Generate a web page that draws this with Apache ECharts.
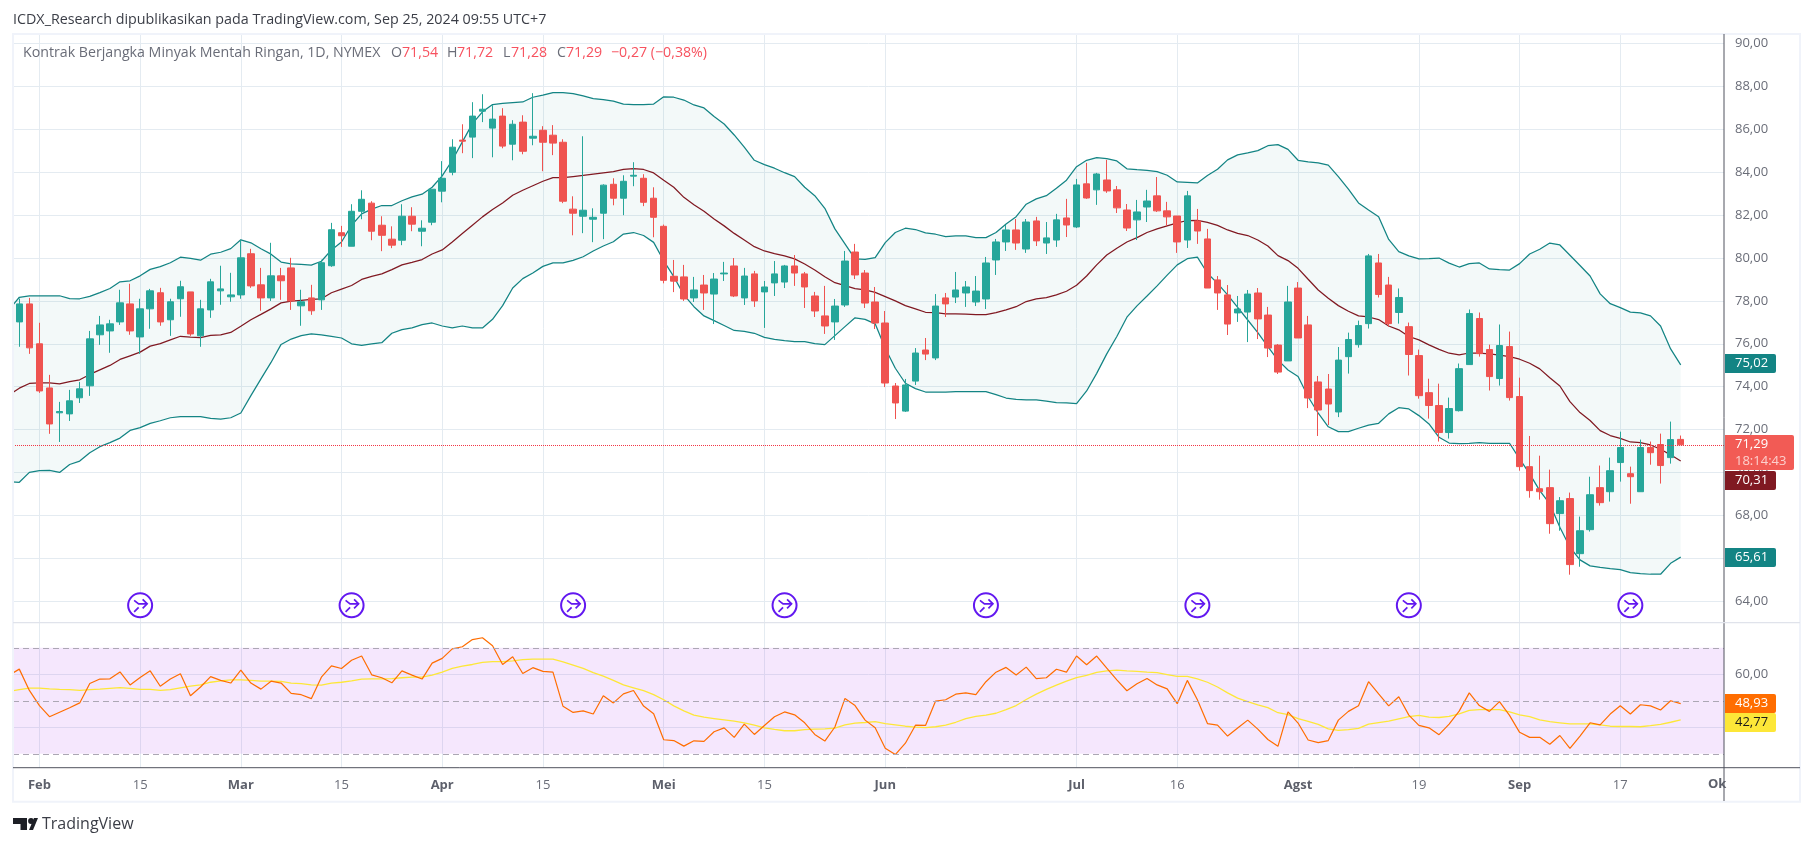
<!DOCTYPE html>
<html><head><meta charset="utf-8">
<style>html,body{margin:0;padding:0;background:#fff}#c{width:1814px;height:846px}</style>
<script src="https://cdn.jsdelivr.net/npm/echarts@6/dist/echarts.min.js"></script>
</head><body><div id="c"></div>
<script>
const open=[77.02,77.86,76.00,73.94,72.78,72.73,73.48,74.04,76.42,76.60,77.02,77.86,76.32,77.63,78.38,77.12,78.10,78.42,76.37,77.58,78.47,78.19,78.28,80.20,78.75,78.14,79.17,79.54,77.77,78.14,78.05,79.64,81.18,80.55,82.18,82.56,81.53,80.88,80.83,81.95,81.25,81.67,83.12,84.00,85.50,85.64,86.85,86.06,86.62,85.31,86.34,85.59,85.96,85.73,85.40,82.28,81.95,81.81,82.09,83.44,82.79,83.82,83.72,82.79,81.48,79.15,79.12,78.14,78.74,78.32,79.26,79.63,78.14,79.26,78.42,78.84,78.88,79.63,79.26,78.23,77.30,77.02,77.81,80.28,79.30,77.95,76.97,74.03,72.86,74.26,75.71,75.34,78.14,78.18,78.37,77.95,78.09,79.91,80.75,81.31,80.42,81.73,80.70,80.84,81.87,81.45,83.46,83.18,83.64,83.18,82.24,81.78,82.38,82.90,82.20,81.96,80.84,81.73,80.89,78.98,78.28,77.44,77.48,78.37,77.34,75.94,75.20,78.60,76.88,74.22,73.89,72.82,75.40,75.96,76.94,79.77,78.74,77.46,76.80,75.45,73.72,73.12,71.86,72.88,75.03,77.18,75.73,74.38,75.87,73.54,70.27,69.24,69.29,68.08,68.78,66.21,67.33,69.29,69.10,70.46,69.94,69.10,71.16,71.30,70.69,71.54];
const close=[77.86,75.81,73.80,72.26,72.84,73.34,73.90,76.23,76.88,76.93,77.91,76.60,77.63,78.47,77.02,77.96,78.66,76.46,77.63,78.89,78.56,78.28,80.01,78.70,78.14,79.17,78.94,78.00,77.96,77.54,79.78,81.32,81.04,82.18,82.74,81.25,81.06,80.60,81.95,81.58,81.39,83.21,83.72,85.17,85.45,86.62,86.94,86.48,85.22,86.24,84.98,85.68,85.40,85.36,82.65,82.09,82.23,81.90,83.40,82.79,83.58,83.86,82.60,81.90,78.96,78.92,78.09,78.51,78.37,79.02,79.30,78.23,79.16,78.00,78.65,79.26,79.63,79.30,78.65,77.53,76.83,77.76,79.86,79.21,77.90,76.97,74.17,73.24,74.08,75.57,75.52,77.76,77.86,78.51,78.65,78.46,79.77,80.75,81.31,80.70,81.68,80.80,80.94,81.78,81.54,83.41,82.80,83.92,83.13,82.34,81.40,82.15,82.66,82.20,81.92,80.75,82.90,81.26,78.60,78.37,76.92,77.62,78.32,77.16,75.80,74.68,77.95,76.27,73.47,72.91,73.19,75.24,76.20,76.85,80.10,78.30,76.94,78.16,75.50,73.58,73.12,71.86,72.98,74.84,77.41,75.54,74.47,75.92,73.49,70.27,69.15,69.10,67.61,68.68,65.70,67.28,68.96,68.59,70.08,71.16,69.80,71.16,70.92,70.32,71.53,71.29];
const high=[78.11,78.14,76.98,74.55,73.29,73.85,74.22,76.60,77.30,77.12,78.52,78.80,78.10,78.56,78.61,78.10,78.94,78.42,78.05,79.03,79.64,79.31,80.85,80.43,79.54,80.71,79.54,80.01,78.52,78.75,79.92,81.64,81.50,82.51,83.16,82.65,81.95,81.48,82.51,82.37,81.76,83.21,84.52,85.54,86.24,87.27,87.64,87.13,86.99,86.43,86.66,87.69,86.15,86.20,85.54,82.88,85.68,82.32,83.44,83.72,83.86,84.47,83.91,83.30,81.56,79.91,79.68,79.12,79.21,79.30,79.82,80.00,79.54,79.40,78.93,79.86,79.68,80.14,79.35,78.42,78.70,78.09,80.33,80.66,79.44,78.65,77.53,74.17,74.36,75.80,76.27,78.32,78.37,79.35,78.93,79.16,80.05,80.89,81.54,81.82,81.82,81.92,81.68,82.06,82.76,83.69,84.44,83.97,84.58,83.36,82.52,82.71,83.18,83.78,82.62,81.96,83.13,82.29,81.36,79.16,78.74,78.23,78.51,78.60,77.72,75.99,78.70,78.88,77.30,74.50,74.59,75.85,76.52,77.08,80.19,80.19,79.12,78.58,76.99,75.73,74.37,74.14,73.49,75.08,77.60,77.46,75.96,76.90,76.57,74.42,71.70,70.78,70.13,68.85,69.06,67.94,69.80,70.32,70.69,71.90,70.27,71.53,71.44,71.81,72.37,71.72];
const low=[75.86,75.53,73.71,71.80,71.42,72.40,73.24,73.57,75.95,75.58,76.88,76.42,75.53,76.70,76.84,76.37,77.26,76.37,75.86,77.21,77.82,77.96,78.10,78.61,77.54,78.00,78.05,77.58,76.84,77.35,77.58,79.59,80.52,80.55,81.81,80.83,80.32,80.46,80.60,81.25,80.55,81.53,82.60,83.86,84.89,84.66,86.34,84.70,85.12,84.56,84.84,85.26,84.05,84.80,82.56,81.06,81.16,80.74,80.88,82.46,82.00,83.35,82.42,80.97,78.82,78.41,78.00,77.95,77.58,76.92,78.93,78.18,77.81,77.72,76.74,78.23,78.60,78.70,77.67,77.25,76.46,76.18,77.72,79.02,77.67,76.69,73.98,72.49,72.82,74.08,75.24,75.24,77.25,77.90,77.72,77.76,77.62,79.21,80.33,80.38,80.24,80.56,80.19,80.52,80.98,81.40,82.76,82.48,83.04,82.10,81.26,80.84,81.68,82.15,81.50,80.24,80.47,80.66,78.60,77.58,76.41,77.02,76.08,76.22,75.38,74.59,75.20,76.27,73.00,71.70,72.21,72.58,74.61,75.82,76.71,78.16,76.80,76.94,74.52,73.44,72.51,71.44,71.58,72.84,75.03,75.40,73.82,74.05,73.35,70.08,68.82,68.73,67.14,67.28,65.23,65.60,67.24,68.45,68.64,69.57,68.54,69.10,70.36,69.48,70.41,71.28];
// indicator lists start one session before the first visible candle
const bbUpper=[77.60,78.17,78.24,78.24,78.24,78.24,78.11,78.10,78.21,78.39,78.58,78.89,78.94,79.17,79.47,79.60,79.78,80.04,79.98,79.90,80.18,80.27,80.44,80.85,80.71,80.43,80.18,79.81,79.73,79.70,79.67,79.85,80.38,80.75,81.53,82.06,82.28,82.45,82.45,82.67,82.85,82.98,83.30,83.83,84.56,85.42,86.27,86.82,87.16,87.21,87.25,87.28,87.50,87.60,87.72,87.72,87.67,87.56,87.44,87.39,87.32,87.18,87.16,87.16,87.18,87.52,87.50,87.37,87.14,87.00,86.60,86.25,85.74,85.17,84.56,84.36,84.19,83.98,83.80,83.30,82.91,82.32,81.36,80.66,79.96,79.94,80.02,80.72,81.19,81.39,81.33,81.17,81.11,81.00,81.03,81.03,80.95,80.95,81.19,81.59,81.93,82.51,82.76,82.91,83.25,83.63,84.26,84.56,84.68,84.64,84.53,84.16,84.12,84.09,84.03,83.86,83.55,83.53,83.50,83.85,84.14,84.58,84.81,84.90,85.01,85.24,85.29,85.07,84.56,84.48,84.44,84.33,83.80,83.21,82.57,82.24,81.93,80.87,80.30,80.10,79.96,79.97,80.00,79.76,79.58,79.74,79.77,79.49,79.46,79.44,79.74,80.19,80.41,80.70,80.61,80.13,79.65,79.16,78.33,77.87,77.69,77.48,77.44,77.30,76.83,75.76,75.02];
const bbBasis=[73.62,73.93,74.15,74.18,74.18,74.13,74.24,74.32,74.57,74.78,74.99,75.27,75.44,75.61,75.89,76.01,76.18,76.35,76.31,76.29,76.39,76.42,76.53,76.82,77.12,77.37,77.63,77.91,77.99,78.03,78.07,78.10,78.38,78.55,78.72,79.00,79.14,79.26,79.46,79.68,79.80,79.93,80.19,80.38,80.75,81.14,81.53,81.92,82.26,82.57,82.93,83.16,83.37,83.58,83.75,83.75,83.80,83.85,83.91,83.97,84.03,84.14,84.17,84.13,83.97,83.63,83.30,82.83,82.49,82.18,81.82,81.50,81.15,80.84,80.53,80.33,80.21,80.10,79.96,79.72,79.44,79.13,78.85,78.71,78.57,78.51,78.40,78.20,78.00,77.78,77.63,77.47,77.45,77.39,77.39,77.38,77.36,77.36,77.45,77.58,77.73,77.97,78.09,78.15,78.28,78.45,78.73,79.16,79.68,80.14,80.46,80.75,80.95,81.19,81.36,81.50,81.64,81.75,81.76,81.66,81.52,81.31,81.15,81.05,80.84,80.56,80.11,79.88,79.52,79.01,78.51,78.12,77.78,77.52,77.30,77.25,77.13,76.83,76.65,76.34,76.18,75.95,75.74,75.56,75.48,75.57,75.56,75.53,75.47,75.40,75.28,75.09,74.83,74.42,74.03,73.30,72.79,72.42,71.95,71.72,71.59,71.42,71.39,71.28,71.08,70.82,70.53];
const bbLower=[69.57,69.54,70.00,70.08,70.10,70.00,70.37,70.53,70.92,71.20,71.39,71.60,71.96,72.09,72.29,72.41,72.55,72.60,72.60,72.60,72.52,72.49,72.55,72.77,73.58,74.36,75.13,75.97,76.22,76.38,76.46,76.42,76.35,76.27,76.00,75.93,76.00,76.05,76.49,76.66,76.74,76.89,76.97,76.83,76.74,76.83,76.74,76.74,77.14,77.78,78.60,79.04,79.30,79.61,79.77,79.77,79.89,80.06,80.33,80.56,80.76,81.12,81.19,81.05,80.73,79.87,79.13,78.28,77.73,77.30,77.08,76.85,76.62,76.58,76.49,76.30,76.21,76.15,76.10,76.10,76.01,75.96,76.38,76.80,77.21,77.14,76.93,75.79,74.86,74.16,73.91,73.75,73.75,73.75,73.77,73.77,73.77,73.77,73.63,73.47,73.41,73.38,73.38,73.33,73.26,73.24,73.21,73.80,74.62,75.53,76.34,77.24,77.77,78.23,78.70,79.20,79.68,79.97,80.04,79.29,78.82,78.28,77.70,77.11,76.52,75.87,75.24,74.78,74.47,73.53,72.76,72.13,71.90,71.90,72.06,72.21,72.29,72.73,73.02,72.96,72.65,72.26,71.64,71.37,71.34,71.36,71.39,71.36,71.36,71.36,70.63,69.93,69.15,68.53,67.44,66.51,65.92,65.64,65.57,65.51,65.47,65.33,65.28,65.25,65.25,65.76,66.05];
const rsi=[59.7,61.95,53.9,48.2,44.0,45.7,47.4,49.2,56.5,58.2,58.3,60.9,56.0,58.8,61.3,55.5,58.2,60.2,51.9,55.2,59.1,57.7,56.7,61.6,56.7,54.4,57.4,56.7,52.8,52.3,50.8,58.9,63.2,62.2,65.3,66.9,59.8,58.7,56.8,61.3,59.7,58.2,64.2,66.0,69.6,70.4,73.1,73.8,70.8,63.7,66.6,60.3,62.5,61.1,60.8,47.9,45.6,46.2,45.0,51.9,49.2,52.6,53.9,48.0,45.1,35.3,35.0,32.9,34.9,34.7,38.3,39.8,36.2,41.2,37.3,40.7,44.0,45.8,44.7,41.7,37.3,34.8,40.1,50.9,48.2,42.7,39.8,32.1,29.7,34.0,40.8,40.7,49.9,50.4,52.5,53.0,52.3,57.2,60.8,62.6,59.7,62.7,58.4,58.7,61.9,60.8,66.9,63.6,66.9,62.3,57.9,53.8,56.4,58.4,56.0,54.5,48.9,57.7,50.4,41.4,40.8,36.7,39.7,42.7,39.3,35.4,32.8,45.8,41.6,35.2,34.2,35.0,42.7,46.0,48.1,57.2,52.6,48.1,51.5,44.6,40.7,39.8,37.2,41.2,46.1,53.0,48.2,46.0,49.7,44.5,38.1,36.2,36.2,33.6,36.9,32.0,36.7,41.7,40.9,45.0,48.1,45.0,48.5,48.1,46.5,50.0,48.93];
const rsiMa=[53.6,54.2,54.8,54.8,54.5,54.3,54.2,53.9,54.2,54.4,54.7,55.0,54.7,54.3,54.3,53.9,54.2,54.9,55.5,56.0,57.0,57.5,57.9,57.9,57.7,57.4,57.4,57.3,56.7,56.5,56.0,55.9,56.7,57.0,57.5,58.2,58.3,58.3,58.4,58.7,58.9,58.9,59.7,60.8,62.2,63.1,63.7,64.5,64.8,64.8,65.1,65.5,65.7,65.7,65.7,64.7,63.5,62.2,60.6,59.3,57.7,56.0,54.9,53.8,52.3,50.4,48.1,46.2,44.6,43.8,43.3,42.8,42.3,41.7,40.8,39.8,39.2,38.7,38.7,39.1,39.3,39.4,39.7,40.9,41.6,41.8,42.1,41.4,40.9,40.4,40.1,39.9,40.2,40.8,41.9,43.3,44.1,44.6,45.3,46.7,48.2,50.5,52.5,54.3,55.9,57.4,58.7,59.6,60.7,61.3,61.6,61.3,61.1,60.8,60.6,59.9,59.2,59.2,58.3,57.0,55.2,53.0,51.0,49.7,48.5,47.4,45.5,44.8,43.3,42.2,41.1,39.4,38.8,39.1,39.6,41.2,41.8,42.3,43.2,44.0,44.5,43.8,43.7,44.1,45.1,46.4,46.7,46.7,46.7,45.8,44.7,44.0,42.8,42.1,41.7,41.3,41.3,41.3,40.9,40.4,40.3,40.3,40.2,40.6,41.1,41.9,42.77];
const tickIdx=[2,12,22,32,42,52,64,74,86,105,115,127,139,149,159];
const tickLabels=['Feb','15','Mar','15','Apr','15','Mei','15','Jun','Jul','16','Agst','19','Sep','17'];
const priceTicks=[64,66,68,70,72,74,76,78,80,82,84,86,88,90];
const eventIdx=[12,33,55,76,96,117,138,160];
const lastClose=71.29;

const FONT='"Open Sans",sans-serif';
const TXT='#6a6d78';
const GRID='#e4ebf1';
const cd=open.map((o,i)=>[i,o,close[i],low[i],high[i]]);
const line=a=>a.map((v,i)=>[i-1,v]);
const labelMap={};tickIdx.forEach((t,i)=>labelMap[t]=tickLabels[i]);
const isMonth=s=>!/^\d/.test(s);
const xMin=-0.626,xMax=169.3;

function bandFill(p,api){
  const pts=[];
  for(let i=0;i<bbUpper.length;i++)pts.push(api.coord([i-1,bbUpper[i]]));
  for(let i=bbLower.length-1;i>=0;i--)pts.push(api.coord([i-1,bbLower[i]]));
  return {type:'polygon',shape:{points:pts},style:{fill:'rgba(34,150,140,0.055)'}};
}
function eventIcon(p,api){
  const c=api.coord([api.value(0),63.8]);const x=c[0],y=c[1];const col='#6218f0';
  const s={stroke:col,lineWidth:1.7,fill:null};
  return {type:'group',children:[
    {type:'circle',shape:{cx:x,cy:y,r:12},style:{stroke:col,lineWidth:2,fill:'#fff'}},
    {type:'polyline',shape:{points:[[x-6,y-5],[x-1.5,y-1.5],[x+7,y-1.5]]},style:s},
    {type:'polyline',shape:{points:[[x+2.5,y-6],[x+7,y-1.5],[x+2.5,y+3]]},style:s},
    {type:'line',shape:{x1:x-1.5,y1:y+2,x2:x-6,y2:y+6.5},style:s}
  ]};
}
function tag(y,h,w,bg,lines){
  const out=[{type:'rect',z:50,shape:{x:1725,y:y,width:w,height:h,r:[0,2,2,0]},style:{fill:bg}}];
  lines.forEach(l=>out.push({type:'text',z:51,style:{x:1735,y:l.y,text:l.t,fill:l.c,font:'13px '+FONT,textVerticalAlign:'middle'}}));
  return out;
}
const gLine=(x1,y1,x2,y2,c,w)=>({type:'line',z:40,shape:{x1,y1,x2,y2},style:{stroke:c,lineWidth:w||1}});

const chart=echarts.init(document.getElementById('c'),null,{renderer:'canvas'});
chart.setOption({
  animation:false,backgroundColor:'#fff',
  grid:[{left:13,top:34,width:1711,height:588.7},{left:13,top:622.7,width:1711,height:145}],
  xAxis:[
   {type:'value',gridIndex:0,min:xMin,max:xMax,axisLine:{show:false},axisLabel:{show:false},
    axisTick:{show:false,customValues:tickIdx},splitLine:{show:true,lineStyle:{color:GRID}}},
   {type:'value',gridIndex:1,min:xMin,max:xMax,axisLine:{show:false},
    axisTick:{show:false,customValues:tickIdx},splitLine:{show:true,lineStyle:{color:GRID}},
    axisLabel:{show:true,customValues:tickIdx,margin:11,hideOverlap:false,
      formatter:v=>{const s=labelMap[v]||'';return isMonth(s)?'{b|'+s+'}':'{r|'+s+'}';},
      rich:{b:{fontFamily:FONT,fontSize:13,fontWeight:'bold',color:'#5d606b'},r:{fontFamily:FONT,fontSize:13,color:TXT}}}}
  ],
  yAxis:[
   {type:'value',gridIndex:0,position:'right',min:62.99,max:90.45,axisLine:{show:false},
    axisTick:{show:false,customValues:priceTicks},splitLine:{show:true,lineStyle:{color:GRID}},
    axisLabel:{show:true,customValues:priceTicks,margin:11,color:TXT,fontFamily:FONT,fontSize:13,
      padding:[0,0,4,0],formatter:v=>v.toFixed(2).replace('.',',')}},
   {type:'value',gridIndex:1,position:'right',min:24.75,max:79.47,axisLine:{show:false},
    axisTick:{show:false,customValues:[40,60]},splitLine:{show:true,lineStyle:{color:GRID}},
    axisLabel:{show:true,customValues:[60],margin:11,color:TXT,fontFamily:FONT,fontSize:13,
      padding:[0,0,4,0],formatter:v=>v.toFixed(2).replace('.',',')}}
  ],
  series:[
   {name:'bbFill',type:'custom',data:[[0,70]],encode:{x:0,y:1},renderItem:bandFill,clip:true,z:1,silent:true},
   {name:'Upper',type:'line',data:line(bbUpper),symbol:'none',lineStyle:{color:'#138484',width:1.25},z:2},
   {name:'Lower',type:'line',data:line(bbLower),symbol:'none',lineStyle:{color:'#138484',width:1.25},z:2},
   {name:'Basis',type:'line',data:line(bbBasis),symbol:'none',lineStyle:{color:'#801922',width:1.25},z:2},
   {name:'Price',type:'candlestick',data:cd,encode:{x:0,y:[1,2,3,4]},barWidth:7,z:3,
    itemStyle:{color:'#26a69a',color0:'#ef5350',borderColor:'#26a69a',borderColor0:'#ef5350',borderWidth:1},
    markLine:{silent:true,symbol:'none',label:{show:false},lineStyle:{color:'#f23645',type:'dotted',width:1},data:[{yAxis:lastClose}]}},
   {name:'Events',type:'custom',data:eventIdx.map(i=>[i]),encode:{x:0},renderItem:eventIcon,z:4,clip:false},
   {name:'RSIband',type:'line',xAxisIndex:1,yAxisIndex:1,data:[],symbol:'none',z:1,
    markArea:{silent:true,itemStyle:{color:'rgba(170,60,240,0.12)'},data:[[{yAxis:70},{yAxis:30}]]},
    markLine:{silent:true,symbol:'none',label:{show:false},lineStyle:{color:'#aca7b4',type:[6,4],width:1},
      data:[{yAxis:70},{yAxis:50},{yAxis:30}]}},
   {name:'RSI MA',type:'line',xAxisIndex:1,yAxisIndex:1,data:line(rsiMa),symbol:'none',lineStyle:{color:'#fde738',width:1.3},z:3},
   {name:'RSI',type:'line',xAxisIndex:1,yAxisIndex:1,data:line(rsi),symbol:'none',lineStyle:{color:'#ff6d00',width:1.2},z:4}
  ],
  graphic:{elements:[
    {type:'rect',z:39,shape:{x:13,y:34,width:1787,height:767.7},style:{fill:null,stroke:'#f0f3fa',lineWidth:2}},
    gLine(1724,34,1724,801,'#50535e'),
    gLine(13,767.7,1800,767.7,'#50535e'),
    gLine(13,622.7,1800,622.7,'#e0e3eb',1.2),
    {type:'text',z:60,style:{x:13,y:20,text:'ICDX_Research dipublikasikan pada TradingView.com, Sep 25, 2024 09:55 UTC+7',fill:'#3b3e47',font:'14.3px '+FONT,textVerticalAlign:'middle'}},
    {type:'text',z:60,style:{x:23,y:53,text:'Kontrak Berjangka Minyak Mentah Ringan, 1D, NYMEX',fill:TXT,font:'14.2px '+FONT,textVerticalAlign:'middle'}},
    ...[[391,'O',TXT],[402,'71,54','#f7525f'],[447,'H',TXT],[457,'71,72','#f7525f'],[503,'L',TXT],[511,'71,28','#f7525f'],[557,'C',TXT],[566,'71,29','#f7525f'],[611,'\u22120,27 (\u22120,38%)','#f7525f']]
      .map(a=>({type:'text',z:60,style:{x:a[0],y:53,text:a[1],fill:a[2],font:'14.2px '+FONT,textVerticalAlign:'middle'}})),
    {type:'text',z:60,style:{x:1708,y:784,text:'Ok',fill:'#5d606b',font:'bold 13px '+FONT,textVerticalAlign:'middle'}},
    ...tag(354,19,51,'#138484',[{y:363.5,t:'75,02',c:'#fff'}]),
    ...tag(435,35,69,'#f25b55',[{y:444,t:'71,29',c:'#fff'},{y:461,t:'18:14:43',c:'#fcd0cd'}]),
    ...tag(471,19,51,'#801922',[{y:480.5,t:'70,31',c:'#fff'}]),
    ...tag(548,19,51,'#138484',[{y:557.5,t:'65,61',c:'#fff'}]),
    ...tag(694,19,51,'#ff6d00',[{y:703.5,t:'48,93',c:'#fff'}]),
    ...tag(713,19,51,'#fde738',[{y:722.5,t:'42,77',c:'#1a1a1a'}]),
    {type:'polygon',z:60,shape:{points:[[13,818],[27,818],[27,830],[20.5,830],[20.5,824],[13,824]]},style:{fill:'#1d1f26'}},
    {type:'circle',z:60,shape:{cx:31,cy:821,r:2.9},style:{fill:'#1d1f26'}},
    {type:'polygon',z:60,shape:{points:[[29,830],[34,818],[38,818],[33,830]]},style:{fill:'#1d1f26'}},
    {type:'text',z:60,style:{x:42,y:824,text:'TradingView',fill:'#3b3e47',font:'16px '+FONT,textVerticalAlign:'middle'}}
  ]}
});
</script></body></html>
